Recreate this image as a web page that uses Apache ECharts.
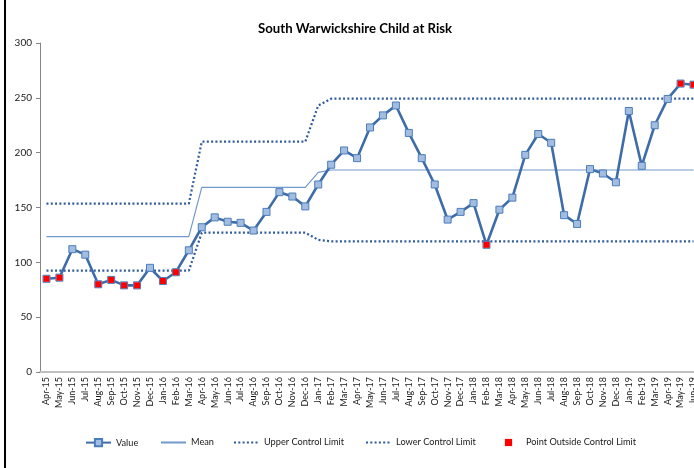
<!DOCTYPE html>
<html>
<head>
<meta charset="utf-8">
<script src="https://cdn.jsdelivr.net/npm/echarts@6/dist/echarts.min.js"></script>
<style>
html,body{margin:0;padding:0;background:#fff;overflow:hidden;}
#chart{width:694px;height:468px;}
</style>
</head>
<body>
<div id="chart"></div>
<script>
var categories = ["Apr-15","May-15","Jun-15","Jul-15","Aug-15","Sep-15","Oct-15","Nov-15","Dec-15","Jan-16","Feb-16","Mar-16",
"Apr-16","May-16","Jun-16","Jul-16","Aug-16","Sep-16","Oct-16","Nov-16","Dec-16","Jan-17","Feb-17","Mar-17",
"Apr-17","May-17","Jun-17","Jul-17","Aug-17","Sep-17","Oct-17","Nov-17","Dec-17","Jan-18","Feb-18","Mar-18",
"Apr-18","May-18","Jun-18","Jul-18","Aug-18","Sep-18","Oct-18","Nov-18","Dec-18","Jan-19","Feb-19","Mar-19",
"Apr-19","May-19","Jun-19"];

var valueData = [85,86,112,107,80,84,79,79,95,83,91,111,
132,141,137,136,129,146,164,160,151,171,189,202,
195,223,234,243,218,195,171,139,146,154,116,148,
159,198,217,209,143,135,185,181,173,238,188,225,
249,263,262];

var meanData = [123.4,123.4,123.4,123.4,123.4,123.4,123.4,123.4,123.4,123.4,123.4,123.4,
168.4,168.4,168.4,168.4,168.4,168.4,168.4,168.4,168.4,182,184.2,184.2,
184.2,184.2,184.2,184.2,184.2,184.2,184.2,184.2,184.2,184.2,184.2,184.2,
184.2,184.2,184.2,184.2,184.2,184.2,184.2,184.2,184.2,184.2,184.2,184.2,
184.2,184.2,184.2];

var uclData = [153.5,153.5,153.5,153.5,153.5,153.5,153.5,153.5,153.5,153.5,153.5,153.5,
210,210,210,210,210,210,210,210,210,243,249.2,249.2,
249.2,249.2,249.2,249.2,249.2,249.2,249.2,249.2,249.2,249.2,249.2,249.2,
249.2,249.2,249.2,249.2,249.2,249.2,249.2,249.2,249.2,249.2,249.2,249.2,
249.2,249.2,249.2];

var lclData = [92.4,92.4,92.4,92.4,92.4,92.4,92.4,92.4,92.4,92.4,92.4,92.4,
127,127,127,127,127,127,127,127,127,120.5,119.2,119.2,
119.2,119.2,119.2,119.2,119.2,119.2,119.2,119.2,119.2,119.2,119.2,119.2,
119.2,119.2,119.2,119.2,119.2,119.2,119.2,119.2,119.2,119.2,119.2,119.2,
119.2,119.2,119.2];

var outsideData = [85,86,null,null,80,84,79,79,null,83,91,null,
null,null,null,null,null,null,null,null,null,null,null,null,
null,null,null,null,null,null,null,null,null,null,116,null,
null,null,null,null,null,null,null,null,null,null,null,null,
null,263,262];

var yTicks = {min:0, max:300, interval:50};

var FONT = 'Lato, "Open Sans", sans-serif';
var chart = echarts.init(document.getElementById('chart'), null, {renderer:'canvas'});

function legendAt(name, left, hideSymbol){
  var item = {name:name};
  if (hideSymbol) item.itemStyle = {opacity:0};
  return {
    data:[item], left:left, top:433, itemWidth:25, itemHeight:9, itemGap:0,
    textStyle:{fontFamily:FONT, fontSize:9.2, color:'#1a1a1a'}
  };
}

var option = {
  backgroundColor:'#ffffff',
  animation:false,
  title:{
    text:'South Warwickshire Child at Risk',
    left:253, top:17,
    textStyle:{fontFamily:FONT, fontSize:13.2, fontWeight:'bold', color:'#000'}
  },
  legend:[
    legendAt('Value', 80, false),
    legendAt('Mean', 155, true),
    legendAt('Upper Control Limit', 228, true),
    legendAt('Lower Control Limit', 360, true),
    legendAt('Point Outside Control Limit', 491, false)
  ],
  grid:{left:40, top:43, width:660, height:329, containLabel:false, outerBoundsMode:'none'},
  xAxis:{
    type:'category', data:categories, boundaryGap:true,
    axisLine:{show:true, lineStyle:{color:'#BFBFBF', width:2}},
    axisTick:{show:false},
    axisLabel:{interval:0, rotate:90, margin:5, fontFamily:FONT, fontSize:9, color:'#1a1a1a'},
    splitLine:{show:false}
  },
  yAxis:{
    type:'value', min:yTicks.min, max:yTicks.max, interval:yTicks.interval,
    axisLine:{show:true, lineStyle:{color:'#868686', width:1}},
    axisTick:{show:true, inside:false, length:4, lineStyle:{color:'#868686'}},
    axisLabel:{margin:8, fontFamily:FONT, fontSize:10, color:'#1a1a1a'},
    splitLine:{show:false}
  },
  series:[
    {
      name:'Value', type:'line', data:valueData, z:5,
      symbol:'rect', symbolSize:7, showSymbol:true,
      lineStyle:{color:'#3D6CA8', width:2.6},
      itemStyle:{color:'#A3BDE0', borderColor:'#4A7DBB', borderWidth:1}
    },
    {
      name:'Mean', type:'line', data:meanData, z:3,
      symbol:'none',
      lineStyle:{color:'#7299CD', width:1.2},
      itemStyle:{color:'#7299CD'}
    },
    {
      name:'Upper Control Limit', type:'line', data:uclData, z:3,
      symbol:'none',
      lineStyle:{color:'#2F5B9C', width:2.2, type:[2,2.3]},
      itemStyle:{color:'#2F5B9C'}
    },
    {
      name:'Lower Control Limit', type:'line', data:lclData, z:3,
      symbol:'none',
      lineStyle:{color:'#2F5B9C', width:2.2, type:[2,2.3]},
      itemStyle:{color:'#2F5B9C'}
    },
    {
      name:'Point Outside Control Limit', type:'line', data:outsideData, z:6,
      symbol:'rect', symbolSize:6, showSymbol:true, connectNulls:false,
      lineStyle:{width:0, opacity:0},
      itemStyle:{color:'#FF0000', borderWidth:0}
    }
  ],
  graphic:[
    {type:'line', shape:{x1:5, y1:0, x2:5, y2:468}, style:{stroke:'#000', lineWidth:2}}
  ]
};
chart.setOption(option);
</script>
</body>
</html>
